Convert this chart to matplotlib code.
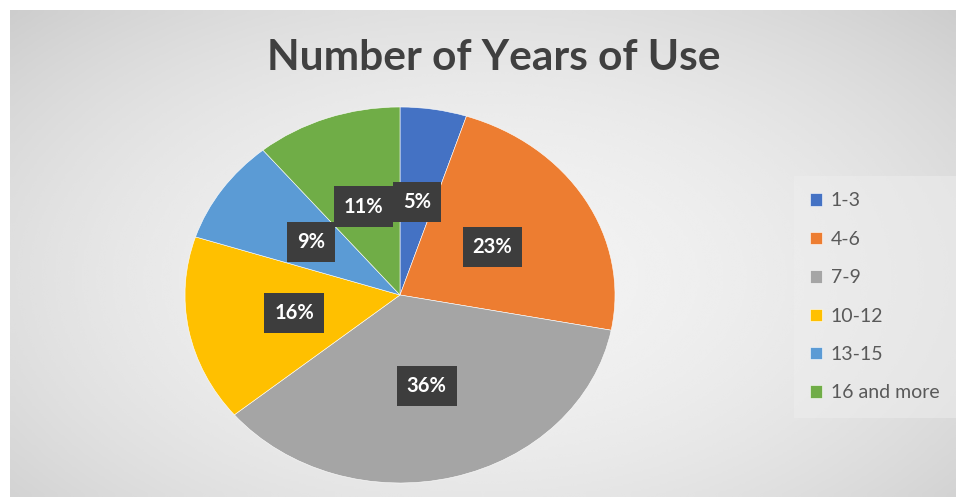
import matplotlib
matplotlib.use("Agg")
import matplotlib.pyplot as plt
import numpy as np

# values of the pie, clockwise from 12 o'clock
labels = ["1-3", "4-6", "7-9", "10-12", "13-15", "16 and more"]
shares = [5, 23, 36, 16, 9, 11]
colors = ["#4472C4", "#ED7D31", "#A5A5A5", "#FFC000", "#5B9BD5", "#70AD47"]

W, H = 961, 499
fig = plt.figure(figsize=(W / 100, H / 100), dpi=100)
fig.patch.set_facecolor("white")

# grey chart area with a soft radial gradient
bg = fig.add_axes([10 / W, 2 / H, 945 / W, 487 / H])
yy, xx = np.mgrid[0:1:200j, 0:1:400j]
d = np.sqrt(((xx - 0.5) / 0.75) ** 2 + ((yy - 0.55) / 0.85) ** 2)
shade = 0.95 - 0.17 * d ** 2
bg.imshow(shade, cmap="gray", vmin=0, vmax=1, aspect="auto",
          extent=[0, 1, 0, 1], origin="upper", interpolation="bicubic")
bg.set_axis_off()

fig.text(494 / W, 1 - 58 / H, "Number of Years of Use", ha="center", va="center",
         fontsize=30.5, fontweight="bold", color="#404040", family="Lato")

ax = fig.add_axes([185 / W, 16 / H, 430 / W, 376 / H])
wedges, texts = ax.pie(shares, colors=colors, startangle=90, counterclock=False,
                       labels=[f"{s}%" for s in shares], labeldistance=0.5,
                       wedgeprops=dict(edgecolor="white", linewidth=0.4))
ax.set_aspect("auto")
ax.set_xlim(-1, 1)
ax.set_ylim(-1, 1)
ax.set_axis_off()
for t in texts:
    t.set_ha("center")
    t.set_va("center")
    t.set_color("white")
    t.set_fontweight("bold")
    t.set_fontsize(14.5)
    t.set_family("Lato")
    t.set_bbox(dict(boxstyle="square,pad=0.5", facecolor="#3d3d3d", edgecolor="none"))

leg = fig.legend(wedges, labels, loc="upper left", bbox_to_anchor=(790 / W, 1 - 172 / H),
                 frameon=True, handlelength=0.6, handleheight=0.6,
                 handletextpad=0.45, labelspacing=1.1, borderpad=0.55,
                 prop=dict(family="Lato", size=14))
leg.get_frame().set_facecolor("#eeeeee")
leg.get_frame().set_alpha(0.5)
leg.get_frame().set_edgecolor("none")
leg.get_frame().set_boxstyle("square")
for txt in leg.get_texts():
    txt.set_color("#595959")

fig.savefig("out.png", dpi=100)
